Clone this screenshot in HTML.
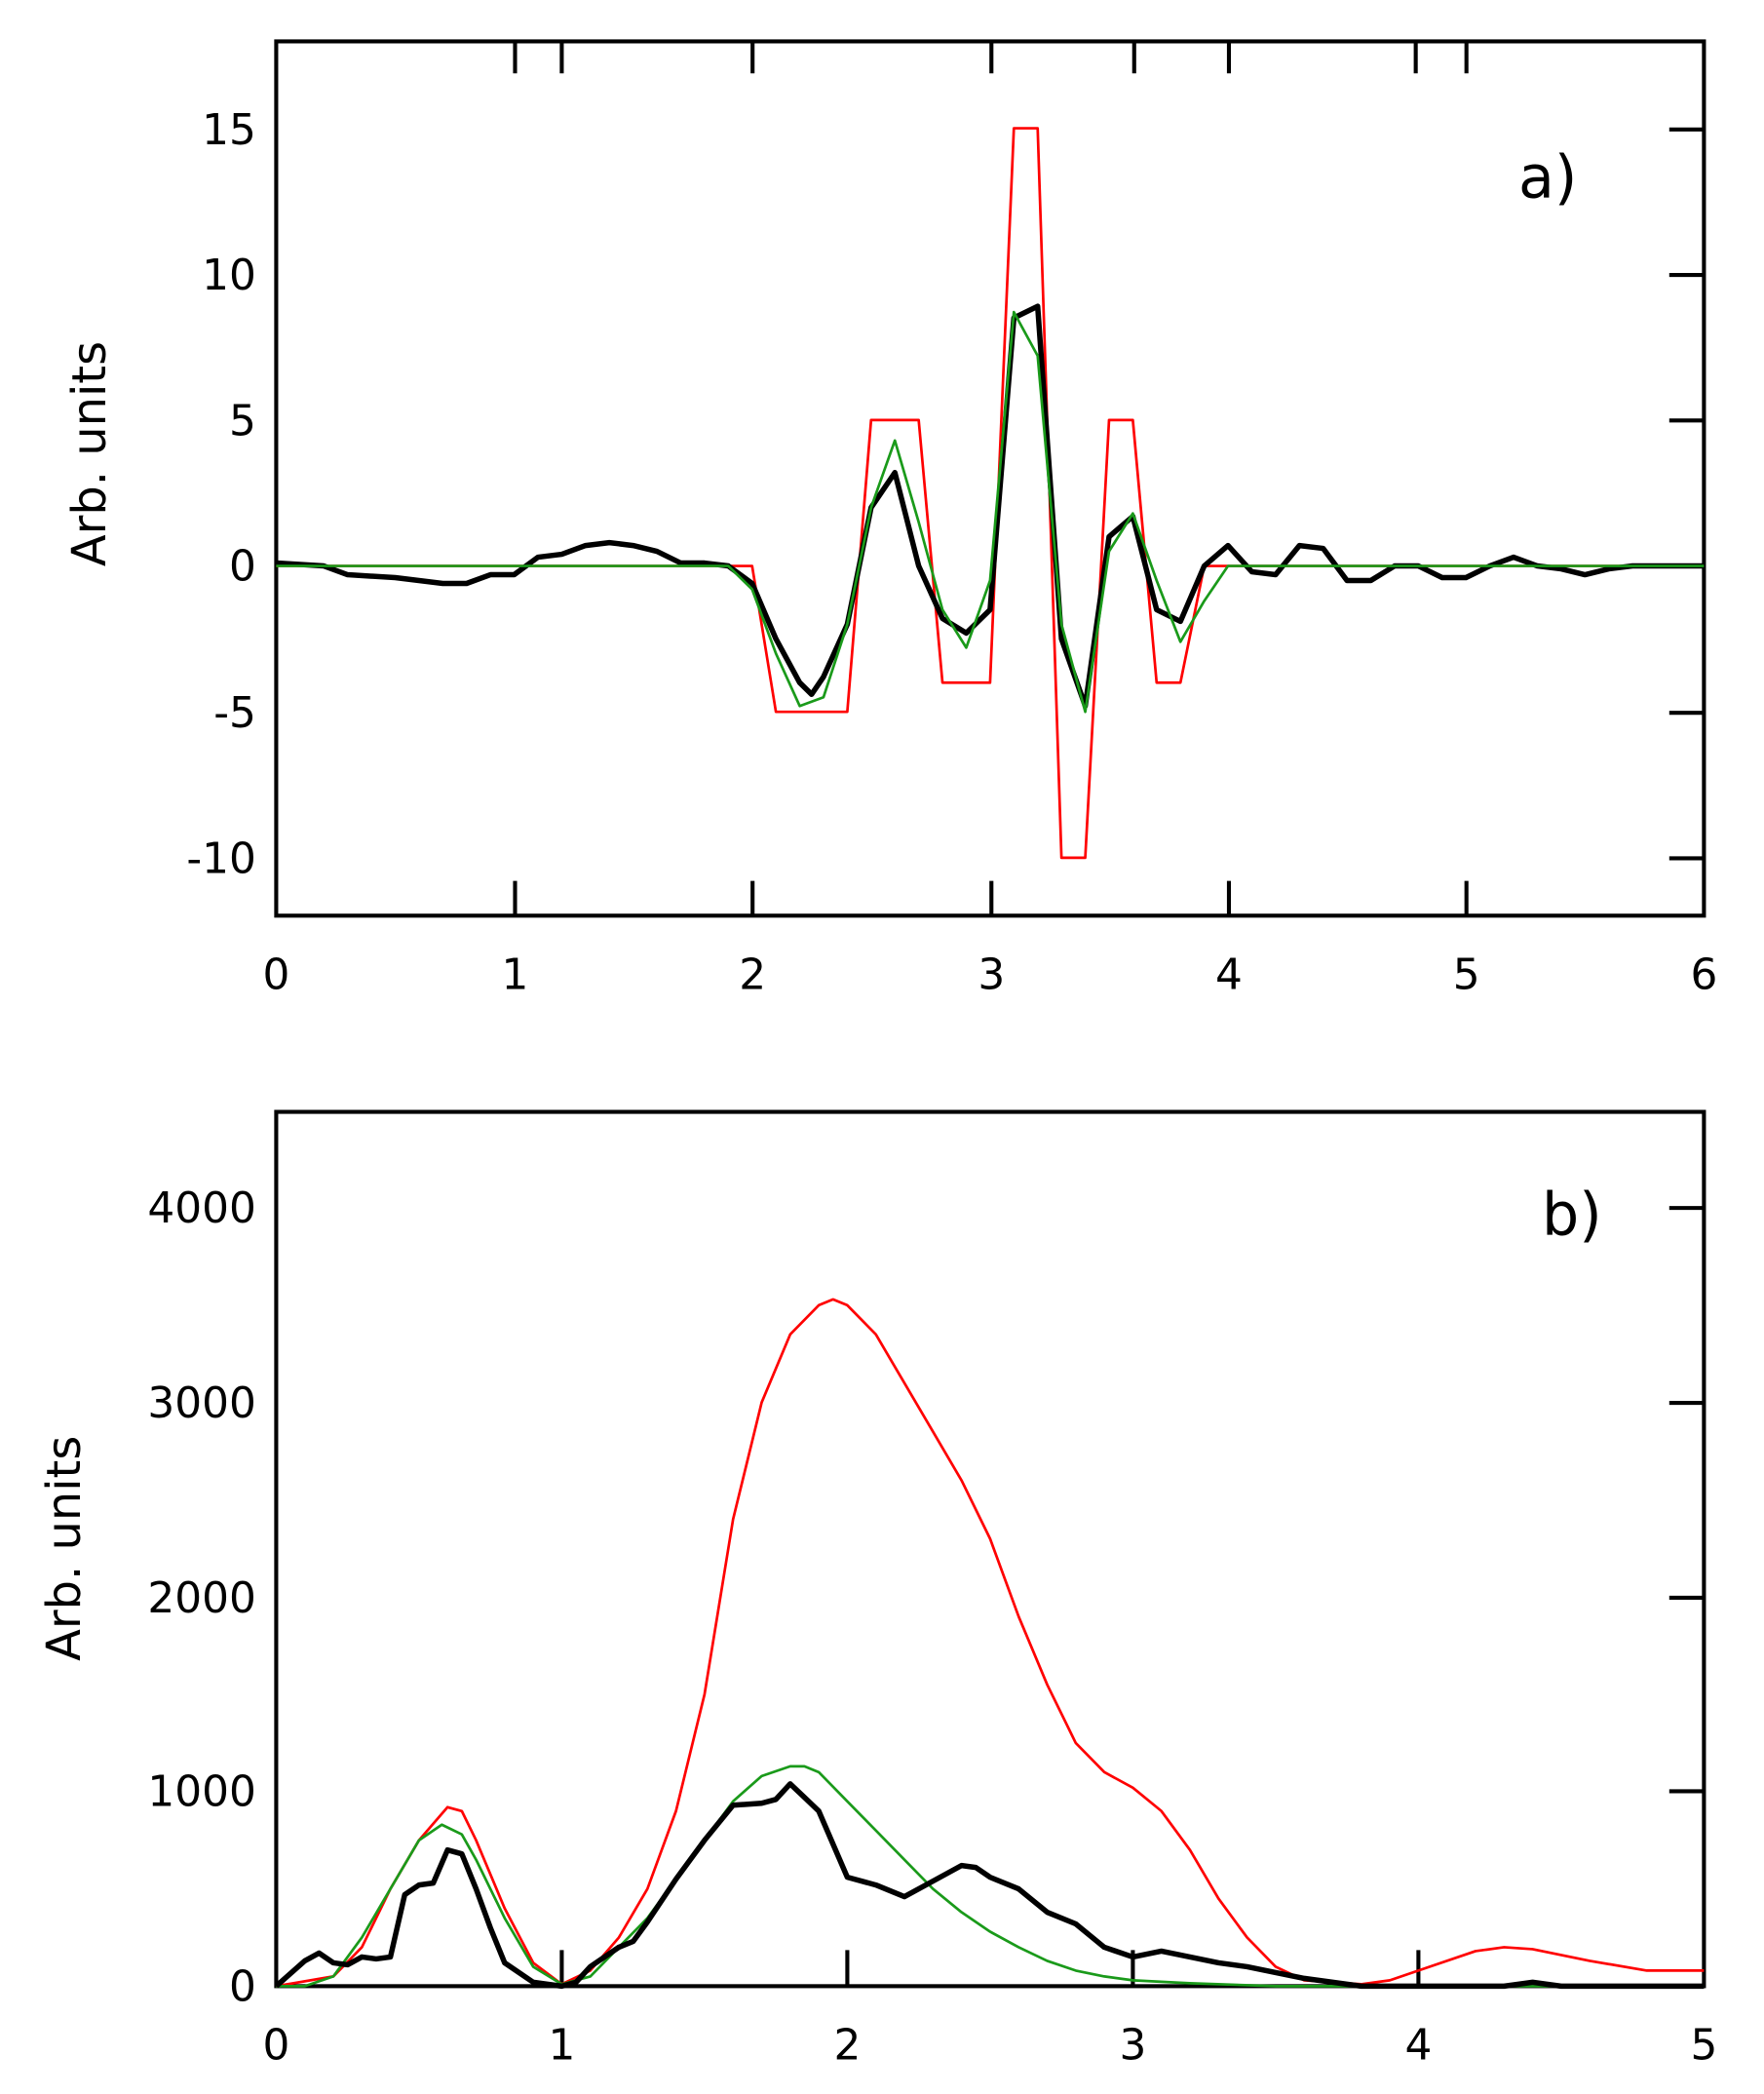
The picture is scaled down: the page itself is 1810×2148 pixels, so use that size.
<!DOCTYPE html>
<html><head><meta charset="utf-8"><style>html,body{margin:0;padding:0;background:#fff}svg{display:block}</style></head>
<body>
<svg width="1810" height="2148" viewBox="0 0 1322 1568.8" preserveAspectRatio="none" xmlns="http://www.w3.org/2000/svg" font-family="'DejaVu Sans','Liberation Sans',sans-serif">
<!-- Chart a -->
<g fill="none" stroke="#000" stroke-width="3">
<rect x="207" y="31" width="1070" height="655"/>
<path d="M386 686v-26M564 686v-26M743 686v-26M921 686v-26M1099 686v-26"/>
<path d="M386 31v24M421 31v24M564 31v24M743 31v24M850 31v24M921 31v24M1061 31v24M1099 31v24"/>
<path d="M1277 97h-26M1277 206h-26M1277 315h-26M1277 424h-26M1277 534h-26M1277 643h-26"/>
</g>
<g font-size="32" fill="#000" text-anchor="end">
<text x="192" y="108">15</text><text x="192" y="217">10</text><text x="192" y="326">5</text><text x="192" y="435">0</text><text x="192" y="545">-5</text><text x="192" y="654">-10</text>
</g>
<g font-size="32" fill="#000" text-anchor="middle">
<text x="207" y="741">0</text><text x="386" y="741">1</text><text x="564" y="741">2</text><text x="743" y="741">3</text><text x="921" y="741">4</text><text x="1099" y="741">5</text><text x="1277" y="741">6</text>
</g>
<text x="1160" y="148" font-size="44" text-anchor="middle">a)</text>
<text transform="translate(79,340) rotate(-90)" font-size="35" text-anchor="middle">Arb. units</text>
<g transform="matrix(178.33 0 0 -21.86 207 424)" fill="none" stroke-linejoin="round">
<polyline vector-effect="non-scaling-stroke" stroke="#f00" stroke-width="2.7" points="0,0 2,0 2.1,-5 2.4,-5 2.5,5 2.7,5 2.8,-4 3,-4 3.1,15 3.2,15 3.3,-10 3.4,-10 3.5,5 3.6,5 3.7,-4 3.8,-4 3.9,0 6,0"/>
<polyline vector-effect="non-scaling-stroke" stroke="#000" stroke-width="5.5" points="0,0.1 0.2,0 0.3,-0.3 0.5,-0.4 0.7,-0.6 0.8,-0.6 0.9,-0.3 1,-0.3 1.1,0.3 1.2,0.4 1.3,0.7 1.4,0.8 1.5,0.7 1.6,0.5 1.7,0.1 1.8,0.1 1.9,0 2,-0.6 2.1,-2.5 2.2,-4 2.25,-4.4 2.3,-3.8 2.4,-2 2.5,2 2.6,3.2 2.7,0 2.8,-1.8 2.9,-2.3 3,-1.5 3.1,8.5 3.2,8.9 3.3,-2.5 3.4,-4.8 3.5,1 3.6,1.7 3.7,-1.5 3.8,-1.9 3.9,0 4,0.7 4.1,-0.2 4.2,-0.3 4.3,0.7 4.4,0.6 4.5,-0.5 4.6,-0.5 4.7,0 4.8,0 4.9,-0.4 5,-0.4 5.1,0 5.2,0.3 5.3,0 5.4,-0.1 5.5,-0.3 5.6,-0.1 5.7,0 6,0"/>
<polyline vector-effect="non-scaling-stroke" stroke="#1a9a1a" stroke-width="2.7" points="0,0 1.9,0 2,-0.8 2.1,-3 2.2,-4.8 2.3,-4.5 2.4,-2 2.5,2 2.6,4.3 2.7,1.5 2.8,-1.5 2.9,-2.8 3,-0.5 3.1,8.7 3.2,7.2 3.3,-2 3.4,-5 3.5,0.5 3.6,1.8 3.7,-0.5 3.8,-2.6 3.9,-1.2 4,0 6,0"/>
</g>
<!-- Chart b -->
<g fill="none" stroke="#000" stroke-width="3">
<rect x="207" y="833" width="1070" height="655"/>
<path d="M421 1488v-27M635 1488v-27M849 1488v-27M1063 1488v-27"/>
<path d="M1277 905h-26M1277 1051h-26M1277 1197h-26M1277 1342h-26"/>
</g>
<g font-size="32" fill="#000" text-anchor="end">
<text x="192" y="916">4000</text><text x="192" y="1062">3000</text><text x="192" y="1208">2000</text><text x="192" y="1353">1000</text><text x="192" y="1499">0</text>
</g>
<g font-size="32" fill="#000" text-anchor="middle">
<text x="207" y="1543">0</text><text x="421" y="1543">1</text><text x="635" y="1543">2</text><text x="849" y="1543">3</text><text x="1063" y="1543">4</text><text x="1277" y="1543">5</text>
</g>
<text x="1178" y="925" font-size="44" text-anchor="middle">b)</text>
<text transform="translate(60,1160) rotate(-90)" font-size="35" text-anchor="middle">Arb. units</text>
<g transform="matrix(214 0 0 -0.14575 207 1488)" fill="none" stroke-linejoin="round">
<polyline vector-effect="non-scaling-stroke" stroke="#f00" stroke-width="2.7" points="0,0 0.2,50 0.3,200 0.4,500 0.5,750 0.6,920 0.65,900 0.7,750 0.8,400 0.9,120 1,10 1.1,80 1.2,250 1.3,500 1.4,900 1.5,1500 1.6,2400 1.7,3000 1.8,3350 1.9,3500 1.95,3530 2,3500 2.1,3350 2.2,3100 2.3,2850 2.4,2600 2.5,2300 2.6,1900 2.7,1550 2.8,1250 2.9,1100 3,1020 3.1,900 3.2,700 3.3,450 3.4,250 3.5,100 3.6,30 3.8,10 3.9,30 4,80 4.2,180 4.3,200 4.4,190 4.6,130 4.8,80 5,80"/>
<polyline vector-effect="non-scaling-stroke" stroke="#1a9a1a" stroke-width="2.7" points="0,0 0.1,0 0.2,50 0.3,250 0.4,500 0.5,750 0.58,830 0.65,780 0.7,650 0.8,350 0.9,100 1,10 1.1,50 1.2,200 1.3,350 1.4,550 1.5,750 1.6,950 1.7,1080 1.8,1130 1.85,1130 1.9,1100 2,950 2.1,800 2.2,650 2.3,500 2.4,380 2.5,280 2.6,200 2.7,130 2.8,80 2.9,50 3,30 3.2,15 3.5,0 5,0"/>
<polyline vector-effect="non-scaling-stroke" stroke="#000" stroke-width="5.5" points="0,0 0.1,130 0.15,170 0.2,120 0.25,110 0.3,150 0.35,140 0.4,150 0.45,470 0.5,520 0.55,530 0.6,700 0.65,680 0.7,500 0.75,300 0.8,120 0.9,20 1,0 1.05,20 1.1,100 1.2,200 1.25,230 1.3,330 1.4,550 1.5,750 1.6,930 1.7,940 1.75,960 1.8,1040 1.85,970 1.9,900 2,560 2.1,520 2.2,460 2.3,540 2.4,620 2.45,610 2.5,560 2.6,500 2.7,380 2.8,320 2.9,200 3,150 3.1,180 3.2,150 3.3,120 3.4,100 3.5,70 3.6,40 3.7,20 3.8,0 4.3,0 4.4,20 4.5,0 5,0"/>
</g>
</svg>
</body></html>
